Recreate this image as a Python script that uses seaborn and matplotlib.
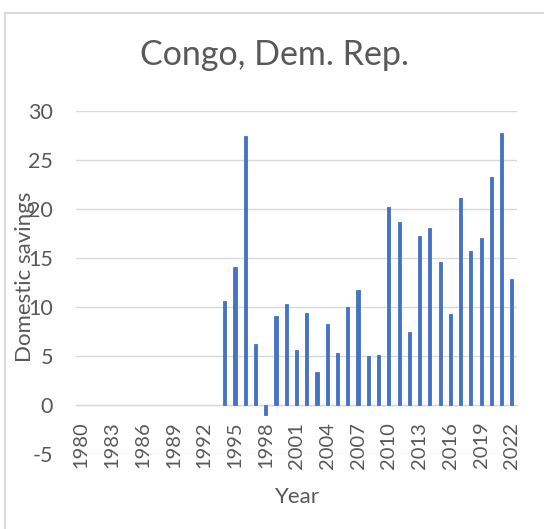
import matplotlib
matplotlib.use("Agg")
import matplotlib.pyplot as plt
import numpy as np
import pandas as pd
import seaborn as sns
from matplotlib.patches import Rectangle

# Domestic savings, Congo Dem. Rep., 1980-2022 (no data before 1994)
years = list(range(1980, 2023))
savings = [np.nan] * 14 + [
    10.6, 14.1, 27.5, 6.2, -1.0, 9.1, 10.3, 5.6, 9.4, 3.4,
    8.3, 5.3, 10.0, 11.7, 5.0, 5.1, 20.2, 18.7, 7.5, 17.2,
    18.1, 14.6, 9.3, 21.1, 15.7, 17.0, 23.3, 27.8, 12.9,
]
tick_years = [str(y) for y in range(1980, 2023, 3)]
y_ticks = [-5, 0, 5, 10, 15, 20, 25, 30]

df = pd.DataFrame({"Year": [str(y) for y in years], "Domestic savings": savings})

sns.set_theme(style="white")
plt.rcParams["font.family"] = ["Lato", "DejaVu Sans"]
TEXT = "#595959"
GRID = "#d9d9d9"
BAR = "#4472C4"

W, H = 544, 529
fig = plt.figure(figsize=(W / 100, H / 100), dpi=100)
fig.patch.set_facecolor("white")
ax = fig.add_axes([76 / W, (H - 454) / H, (517 - 76) / W, (454 - 111) / H])

sns.barplot(data=df, x="Year", y="Domestic savings", order=df["Year"].tolist(),
            color=BAR, saturation=1, width=0.3, ax=ax, zorder=3,
            edgecolor=BAR, linewidth=0.6)

ax.set_xlim(-0.5, len(years) - 0.5)
ax.set_ylim(-5, 30)
ax.set_yticks(y_ticks)
ax.set_yticklabels([str(v) for v in y_ticks])
ax.yaxis.grid(True, color=GRID, linewidth=1.0, zorder=0)
ax.xaxis.grid(False)

idx = [df["Year"].tolist().index(t) for t in tick_years]
ax.set_xticks(idx)
ax.set_xticklabels(tick_years)

for side in ["top", "right", "left"]:
    ax.spines[side].set_visible(False)
ax.spines["bottom"].set_position(("data", 0))
ax.spines["bottom"].set_color(GRID)
ax.spines["bottom"].set_linewidth(1.0)
ax.spines["bottom"].set_zorder(1)

ax.tick_params(axis="x", length=0, pad=12, labelsize=14.5, labelcolor=TEXT,
               labelrotation=90)
ax.tick_params(axis="y", length=0, pad=16.5, labelsize=15.5, labelcolor=TEXT)
ax.set_xlabel("")
ax.set_ylabel("")

fig.text(274 / W, 1 - 55 / H, "Congo, Dem. Rep.", ha="center", va="center",
         fontsize=24.5, color=TEXT)
fig.text(25 / W, 1 - 277 / H, "Domestic savings", ha="center", va="center",
         rotation=90, fontsize=16, color=TEXT)
fig.text(297 / W, 1 - 497 / H, "Year", ha="center", va="center",
         fontsize=16, color=TEXT)

fig.patches.append(Rectangle((4.5 / W, -0.1), 1.2, (H - 13) / H + 0.1,
                             transform=fig.transFigure, fill=False,
                             edgecolor=GRID, linewidth=1.5))

fig.savefig("out.png", dpi=100)
